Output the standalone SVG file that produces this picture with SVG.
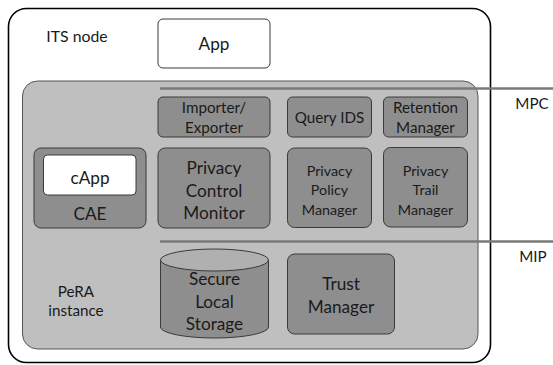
<svg xmlns="http://www.w3.org/2000/svg" width="553" height="365" viewBox="0 0 553 365">
  <defs>
    <style>
      text { font-family: Lato, "Open Sans", sans-serif; fill: #1a1a1a; text-anchor: middle; }
      .comp { fill: #8e8e8e; stroke: #3a3a3a; stroke-width: 1; }
      .white { fill: #ffffff; stroke: #3a3a3a; stroke-width: 1; }
      .bus { stroke: #7a7a7a; stroke-width: 2.5; fill: none; }
      .s16 { font-size: 15.2px; }
      .s15 { font-size: 14.3px; }
      .s18 { font-size: 17.2px; }
    </style>
  </defs>

  <rect width="553" height="365" fill="#ffffff"/>

  <!-- ITS node container -->
  <g id="its-node">
    <rect x="8.5" y="8.5" width="482" height="354" rx="18" fill="#ffffff" stroke="#000000" stroke-width="1.6"/>
    <text x="77" y="42" font-size="15.8px">ITS node</text>
  </g>

  <!-- PeRA instance container -->
  <g id="pera-instance">
    <rect x="22.5" y="81" width="455.5" height="268" rx="15" fill="#bfbfbf" stroke="#555555" stroke-width="1"/>
    <text class="s16" x="76" y="297">PeRA</text>
    <text class="s16" x="76" y="316">instance</text>
  </g>

  <g id="app">
    <rect class="white" x="158" y="19" width="112" height="49" rx="5"/>
    <text class="s18" x="214" y="50">App</text>
  </g>

  <!-- bus lines -->
  <g id="connectors">
    <line class="bus" x1="160" y1="88.5" x2="553" y2="88.5"/>
    <line class="bus" x1="160" y1="241.5" x2="553" y2="241.5"/>
  </g>
  <text class="s16" x="532" y="109">MPC</text>
  <text class="s16" x="533" y="262">MIP</text>

  <g id="importer-exporter">
    <rect class="comp" x="158" y="97" width="112" height="40" rx="5"/>
    <text class="s16" x="214" y="113">Importer/</text>
    <text class="s16" x="214" y="133">Exporter</text>
  </g>

  <g id="query-ids">
    <rect class="comp" x="287.5" y="97" width="84" height="40" rx="5"/>
    <text class="s16" x="329.5" y="123">Query IDS</text>
  </g>

  <g id="retention-manager">
    <rect class="comp" x="383.5" y="97" width="84" height="40" rx="5"/>
    <text class="s16" x="425.5" y="113">Retention</text>
    <text class="s16" x="425.5" y="133">Manager</text>
  </g>

  <g id="cae">
    <rect class="comp" x="34" y="148" width="112" height="80" rx="7"/>
    <text class="s18" x="90" y="220">CAE</text>
  </g>

  <g id="capp">
    <rect class="white" x="43.5" y="155" width="92.5" height="40" rx="4"/>
    <text class="s18" x="90" y="184">cApp</text>
  </g>

  <g id="privacy-control-monitor">
    <rect class="comp" x="158" y="148" width="112" height="80" rx="7"/>
    <text class="s18" x="214" y="174">Privacy</text>
    <text class="s18" x="214" y="197">Control</text>
    <text class="s18" x="214" y="219">Monitor</text>
  </g>

  <g id="privacy-policy-manager">
    <rect class="comp" x="287.5" y="148" width="84" height="79.5" rx="7"/>
    <text class="s15" x="329.5" y="176">Privacy</text>
    <text class="s15" x="329.5" y="195">Policy</text>
    <text class="s15" x="329.5" y="215">Manager</text>
  </g>

  <g id="privacy-trail-manager">
    <rect class="comp" x="383.5" y="147.5" width="84" height="79.5" rx="7"/>
    <text class="s15" x="425.5" y="176">Privacy</text>
    <text class="s15" x="425.5" y="195">Trail</text>
    <text class="s15" x="425.5" y="215">Manager</text>
  </g>

  <g id="secure-local-storage">
    <path d="M160.5,260 L160.5,327 A54,11 0 0 0 268.5,327 L268.5,260" fill="#8e8e8e" stroke="#3a3a3a" stroke-width="1"/>
    <ellipse cx="214.5" cy="260" rx="54" ry="11" fill="#b0b0b0" stroke="#3a3a3a" stroke-width="1"/>
    <text class="s18" x="214.5" y="285">Secure</text>
    <text class="s18" x="214.5" y="308">Local</text>
    <text class="s18" x="214.5" y="330">Storage</text>
  </g>

  <g id="trust-manager">
    <rect class="comp" x="287.5" y="254" width="107" height="80" rx="7"/>
    <text class="s18" x="341" y="290">Trust</text>
    <text class="s18" x="341" y="313">Manager</text>
  </g>
</svg>
